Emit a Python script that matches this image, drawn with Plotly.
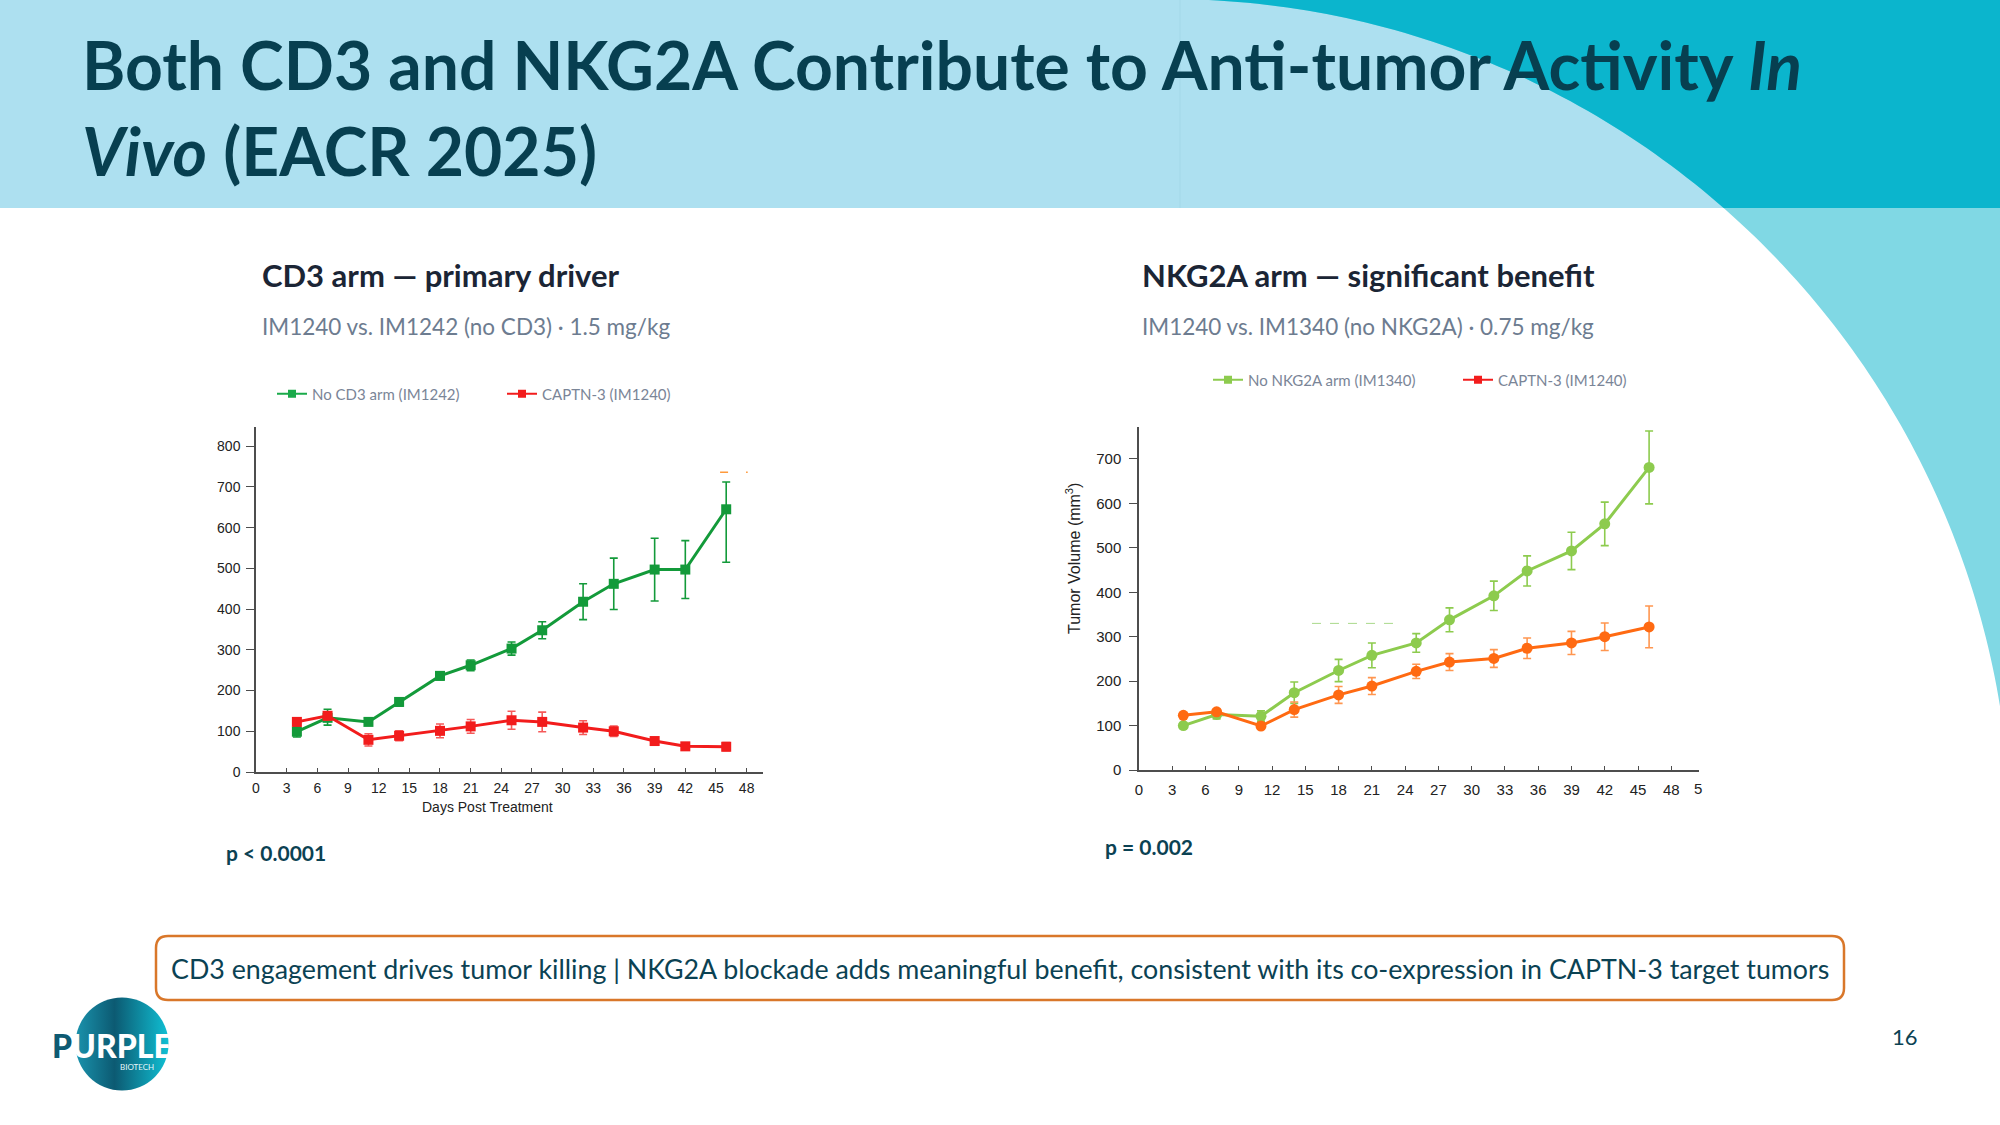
import numpy as np
import plotly.graph_objects as go
import base64

# ---------------- DATA ----------------
days = [4, 7, 11, 14, 18, 21, 25, 28, 32, 35, 39, 42, 46]

# Left panel: CD3 arm
no_cd3 = [99, 133, 123, 172, 236, 262, 303, 348, 418, 462, 497, 497, 645]
no_cd3_err_up = [13, 21, 8, 10, 10, 13, 16, 21, 44, 63, 77, 71, 67]
no_cd3_err_dn = [13, 18, 8, 10, 10, 13, 16, 21, 44, 63, 77, 71, 130]
captn_left = [123, 138, 79, 89, 101, 112, 127, 123, 109, 100, 76, 63, 62]
captn_left_err = [5, 10, 15, 12, 17, 17, 22, 24, 17, 13, 8, 7, 10]

# Right panel: NKG2A arm
no_nkg2a = [100, 125, 121, 174, 224, 258, 286, 338, 392, 448, 493, 554, 681]
no_nkg2a_err = [5, 10, 12, 24, 25, 28, 21, 27, 33, 34, 42, 49, 82]
captn_right = [123, 131, 99, 136, 169, 189, 222, 243, 251, 274, 286, 300, 322]
captn_right_err = [5, 6, 6, 17, 19, 19, 16, 19, 20, 23, 26, 31, 47]

x_ticks = list(range(0, 49, 3))
y_ticks_left = list(range(0, 801, 100))
y_ticks_right = list(range(0, 701, 100))

legend_left = ["No CD3 arm (IM1242)", "CAPTN-3 (IM1240)"]
legend_right = ["No NKG2A arm (IM1340)", "CAPTN-3 (IM1240)"]

title_html = ("Both CD3 and NKG2A Contribute to Anti-tumor Activity <i>In</i><br>"
              "<i>Vivo</i> (EACR 2025)")
left_title = "CD3 arm — primary driver"
left_sub = "IM1240 vs. IM1242 (no CD3) · 1.5 mg/kg"
right_title = "NKG2A arm — significant benefit"
right_sub = "IM1240 vs. IM1340 (no NKG2A) · 0.75 mg/kg"
p_left = "p < 0.0001"
p_right = "p = 0.002"
takeaway = ("CD3 engagement drives tumor killing | NKG2A blockade adds meaningful benefit, "
            "consistent with its co-expression in CAPTN-3 target tumors")

# ---------------- STYLE ----------------
W, H = 2000, 1125
def px(x): return x / W
def py(y): return 1 - y / H

GREEN = "#139A3A"
RED = "#F21C1C"
LGREEN = "#8DCB4E"
ORANGE = "#FF6A12"
TEAL_TXT = "#0B4253"
AXIS = "#4D4D4D"

fig = go.Figure()

# ---- left traces
fig.add_trace(go.Scatter(
    x=days, y=no_cd3, mode="lines+markers", name=legend_left[0], showlegend=False,
    line=dict(color=GREEN, width=3), marker=dict(symbol="square", size=10, color=GREEN),
    error_y=dict(type="data", symmetric=False, array=no_cd3_err_up, arrayminus=no_cd3_err_dn,
                 color=GREEN, thickness=1.6, width=4),
    xaxis="x", yaxis="y"))
fig.add_trace(go.Scatter(
    x=days, y=captn_left, mode="lines+markers", name=legend_left[1], showlegend=False,
    line=dict(color=RED, width=3), marker=dict(symbol="square", size=10, color=RED),
    error_y=dict(type="data", array=captn_left_err, color="#F55A5A", thickness=1.6, width=4),
    xaxis="x", yaxis="y"))

# ---- right traces
fig.add_trace(go.Scatter(
    x=days, y=no_nkg2a, mode="lines+markers", name=legend_right[0], showlegend=False,
    line=dict(color=LGREEN, width=3), marker=dict(symbol="circle", size=11, color=LGREEN),
    error_y=dict(type="data", array=no_nkg2a_err, color=LGREEN, thickness=1.6, width=4),
    xaxis="x2", yaxis="y2"))
fig.add_trace(go.Scatter(
    x=days, y=captn_right, mode="lines+markers", name=legend_right[1], showlegend=False,
    line=dict(color=ORANGE, width=3), marker=dict(symbol="circle", size=11, color=ORANGE),
    error_y=dict(type="data", array=captn_right_err, color="#FF9650", thickness=1.6, width=4),
    xaxis="x2", yaxis="y2"))

# legend entries (thin line + small square, as drawn in the source figures)
for name, col, ax, ay, lg in [(legend_left[0], "#1AAA4A", "x", "y", "legend"),
                              (legend_left[1], "#F21C1C", "x", "y", "legend"),
                              (legend_right[0], LGREEN, "x2", "y2", "legend2"),
                              (legend_right[1], "#F21C1C", "x2", "y2", "legend2")]:
    fig.add_trace(go.Scatter(
        x=[None], y=[None], mode="lines+markers", name=name,
        line=dict(color=col, width=2), marker=dict(symbol="square", size=8, color=col),
        xaxis=ax, yaxis=ay, legend=lg))

axis_font = dict(family="Liberation Sans, Arial", size=14, color="#222222")
common_x = dict(tickmode="array", tickvals=x_ticks, ticks="inside", ticklen=4,
                tickcolor=AXIS, showline=True, linecolor=AXIS, linewidth=1.5,
                showgrid=False, zeroline=False, tickfont=axis_font)
common_y = dict(ticks="outside", ticklen=8, tickcolor=AXIS, showline=True, linecolor=AXIS,
                linewidth=1.5, showgrid=False, zeroline=False, tickfont=axis_font)

leg_font = dict(family="Lato", size=15, color="#7A8597")
fig.update_layout(
    width=W, height=H, margin=dict(l=0, r=0, t=0, b=0, autoexpand=False),
    paper_bgcolor="white", plot_bgcolor="rgba(0,0,0,0)",
    xaxis=dict(domain=[px(256), px(763)], range=[0, 49.6], anchor="y",
               ticklabelstandoff=2, **common_x),
    yaxis=dict(domain=[py(772), py(427)], range=[0, 847], anchor="x",
               tickvals=y_ticks_left, ticklabelstandoff=3, **common_y),
    xaxis2=dict(domain=[px(1139), px(1699)], range=[0, 50.5], anchor="y2",
                ticklabelstandoff=5, **{**common_x, "tickfont": dict(axis_font, size=15)}),
    yaxis2=dict(domain=[py(770), py(427)], range=[0, 772], anchor="x2",
                tickvals=y_ticks_right, ticklabelstandoff=5,
                **{**common_y, "tickfont": dict(axis_font, size=15)}),
    legend=dict(orientation="h", x=px(272), y=py(394), xanchor="left", yanchor="middle",
                font=leg_font, bgcolor="rgba(0,0,0,0)", entrywidth=185,
                entrywidthmode="pixels"),
    legend2=dict(orientation="h", x=px(1208), y=py(380), xanchor="left", yanchor="middle",
                 font=leg_font, bgcolor="rgba(0,0,0,0)", entrywidth=205,
                 entrywidthmode="pixels"),
)

# ---------------- BACKGROUND SHAPES ----------------
cx, cy, r = 1168.0, 842.0, 843.0
phi_end = np.arcsin(min(1.0, (W - cx) / r))
phis = np.linspace(0, phi_end, 120)
arc_x = cx + r * np.sin(phis)
arc_y = cy - r * np.cos(phis)

def path_from(points):
    s = "M {} {}".format(px(points[0][0]), py(points[0][1]))
    for (a, b) in points[1:]:
        s += " L {} {}".format(px(a), py(b))
    return s + " Z"

shapes = []
shapes.append(dict(type="rect", xref="paper", yref="paper", x0=0, x1=1, y0=py(208), y1=1,
                   fillcolor="#ADE0F0", line=dict(width=0), layer="below"))
pts = [(cx, 0)] + list(zip(arc_x, arc_y)) + [(W, arc_y[-1]), (W, 0)]
shapes.append(dict(type="path", xref="paper", yref="paper", path=path_from(pts),
                   fillcolor="#80D8E4", line=dict(width=0), layer="below"))
mask = arc_y <= 208
hx = cx + np.sqrt(r**2 - (cy - 208) ** 2)
pts2 = [(cx, 0)] + list(zip(arc_x[mask], arc_y[mask])) + [(hx, 208), (W, 208), (W, 0)]
shapes.append(dict(type="path", xref="paper", yref="paper", path=path_from(pts2),
                   fillcolor="#0BB5CD", line=dict(width=0), layer="below"))
shapes.append(dict(type="line", xref="paper", yref="paper", x0=px(1180), x1=px(1180),
                   y0=py(208), y1=1, line=dict(color="#A3D8E8", width=1), layer="below"))

# takeaway box with rounded corners
bx0, bx1, by0, by1, rr = 156, 1844, 936, 1000, 12
box = [("M", bx0 + rr, by0), ("L", bx1 - rr, by0), ("Q", bx1, by0, bx1, by0 + rr),
       ("L", bx1, by1 - rr), ("Q", bx1, by1, bx1 - rr, by1), ("L", bx0 + rr, by1),
       ("Q", bx0, by1, bx0, by1 - rr), ("L", bx0, by0 + rr), ("Q", bx0, by0, bx0 + rr, by0)]
bp = ""
for seg in box:
    if seg[0] == "Q":
        bp += " Q {} {} {} {}".format(px(seg[1]), py(seg[2]), px(seg[3]), py(seg[4]))
    else:
        bp += " {} {} {}".format(seg[0], px(seg[1]), py(seg[2]))
bp += " Z"
shapes.append(dict(type="path", xref="paper", yref="paper", path=bp.strip(),
                   fillcolor="white", line=dict(color="#D9772A", width=2.5), layer="below"))

# small stray artifacts present in the source figures
shapes.append(dict(type="line", xref="x", yref="y", x0=45.4, x1=48.1, y0=736, y1=736,
                   line=dict(color="#FF9A3C", width=1.5, dash="8px,18px")))
shapes.append(dict(type="line", xref="x2", yref="y2", x0=15.6, x1=23.7, y0=330, y1=330,
                   line=dict(color="#A9D98A", width=1, dash="dash")))
fig.update_layout(shapes=shapes)

# ---------------- LOGO ----------------
svg = """<svg xmlns='http://www.w3.org/2000/svg' width='200' height='200' viewBox='0 0 200 200'>
<defs><linearGradient id='g' x1='0' y1='0' x2='1' y2='0'>
<stop offset='0' stop-color='#1A93AD'/><stop offset='0.42' stop-color='#0C5A72'/>
<stop offset='1' stop-color='#10C0D4'/></linearGradient></defs>
<circle cx='100' cy='100' r='99' fill='url(#g)'/></svg>"""
src = "data:image/svg+xml;base64," + base64.b64encode(svg.encode()).decode()
fig.add_layout_image(dict(source=src, xref="paper", yref="paper", x=px(75), y=py(997),
                          sizex=94 / W, sizey=94 / H, xanchor="left", yanchor="top",
                          sizing="stretch", layer="below"))

# ---------------- TEXT ----------------
def note(text, x, y, font, xanchor="left", yanchor="middle", **kw):
    return dict(text=text, x=px(x), y=py(y), xref="paper", yref="paper",
                xanchor=xanchor, yanchor=yanchor, showarrow=False, font=font, **kw)

ann = []
ann.append(note(title_html, 80, 108, dict(family="Lato", size=66, color="#073F50", weight=700),
                align="left"))
for t, x, y in [(left_title, 260, 275), (right_title, 1140, 275)]:
    ann.append(note(t, x, y, dict(family="Lato", size=31, color="#1B2535", weight=700)))
for t, x, y in [(left_sub, 260, 327), (right_sub, 1140, 327)]:
    ann.append(note(t, x, y, dict(family="Lato", size=22.5, color="#6D7C90")))
for t, x, y in [(p_left, 224, 852), (p_right, 1103, 846)]:
    ann.append(note(t, x, y, dict(family="Lato", size=21, color=TEAL_TXT, weight=700)))
ann.append(note("Days Post Treatment", 487, 807,
                dict(family="Liberation Sans, Arial", size=14, color="#222222"), xanchor="center"))
ann.append(note("Tumor Volume (mm<sup>3</sup>)", 1073, 559,
                dict(family="Liberation Sans, Arial", size=16, color="#222222"),
                xanchor="center", textangle=-90))
ann.append(note("5", 1698, 788, dict(family="Liberation Sans, Arial", size=15, color="#222222"),
                xanchor="center"))
ann.append(note(takeaway, 1000, 969, dict(family="Lato", size=26.8, color=TEAL_TXT),
                xanchor="center"))
ann.append(note("16", 1905, 1036, dict(family="Lato", size=22, color=TEAL_TXT), xanchor="center"))
ann.append(note('<span style="color:#0E5A72">P</span>URPLE', 112, 1045,
                dict(family="Lato", size=32, color="white", weight=900), xanchor="center"))
ann.append(note("BIOTECH", 137, 1067, dict(family="Lato", size=8, color="#E6F6FA"),
                xanchor="center"))
fig.update_layout(annotations=ann)

fig.write_html(
    "out.html",
    config={"displayModeBar": False},
    post_script=("document.documentElement.style.margin='0';"
                 "document.body.style.margin='0';document.body.style.padding='0';"
                 "document.body.style.overflow='hidden';"
                 "var d=document.getElementById('{plot_id}');"
                 "d.style.position='absolute';d.style.left='0px';d.style.top='0px';"))
